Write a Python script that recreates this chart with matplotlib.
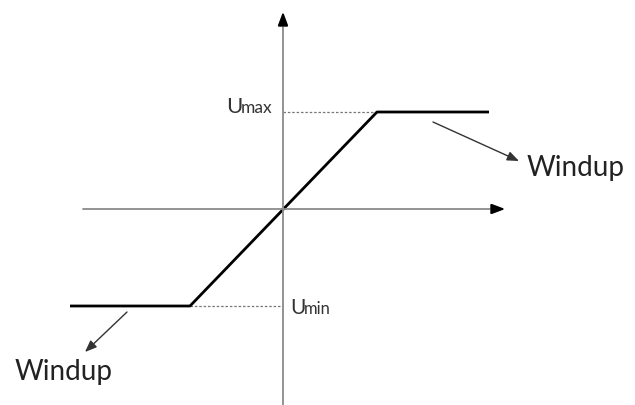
import matplotlib.pyplot as plt

# saturation curve (origin at axis crossing, y up)
u_in = [-213, -93, 94, 206]
u_out = [-97, -97, 97, 97]
u_max = 97
u_min = -97

# axis extents
x_axis = [-200, 222]
y_axis = [-196, 197]

fig = plt.figure(figsize=(6.35, 4.06), dpi=100)
ax = fig.add_axes([0, 0, 1, 1])
ax.set_xlim(-283, 352)
ax.set_ylim(-196, 210)
ax.axis("off")

font = "Lato"
head = "-|>,head_length=0.8,head_width=0.3"

# ejes con flechas
ax.annotate("", xy=(x_axis[1], 0), xytext=(x_axis[0], 0),
            arrowprops=dict(arrowstyle=head, color="#8a8a8a", lw=1.3, shrinkA=0, shrinkB=0))
ax.annotate("", xy=(0, y_axis[1]), xytext=(0, y_axis[0]),
            arrowprops=dict(arrowstyle=head, color="#8a8a8a", lw=1.3, shrinkA=0, shrinkB=0))
# puntas negras
ax.annotate("", xy=(x_axis[1], 0), xytext=(x_axis[1] - 12, 0),
            arrowprops=dict(arrowstyle=head, color="black", lw=1.3, shrinkA=0, shrinkB=0))
ax.annotate("", xy=(0, y_axis[1]), xytext=(0, y_axis[1] - 12),
            arrowprops=dict(arrowstyle=head, color="black", lw=1.3, shrinkA=0, shrinkB=0))

# lineas punteadas de saturacion
ax.plot([0, u_in[2]], [u_max, u_max], ls=(0, (2, 1.5)), color="#777777", lw=0.9)
ax.plot([u_in[1], 0], [u_min, u_min], ls=(0, (2, 1.5)), color="#777777", lw=0.9)

ax.plot(u_in, u_out, color="black", lw=2, solid_capstyle="butt")

# etiquetas Umax / Umin (U grande, resto chico)
ax.text(-57, u_max, "U", ha="left", va="baseline", fontsize=16, family=font, color="#333333")
ax.text(-42, u_max, "max", ha="left", va="baseline", fontsize=12.5, family=font, color="#333333")
ax.text(7, u_min - 7, "U", ha="left", va="baseline", fontsize=15, family=font, color="#333333")
ax.text(21, u_min - 7, "min", ha="left", va="baseline", fontsize=12, family=font, color="#333333")

# flechas de windup
ax.annotate("", xy=(236, 48), xytext=(150, 87),
            arrowprops=dict(arrowstyle="-|>,head_length=0.7,head_width=0.28", color="#333333", lw=1,
                            shrinkA=0, shrinkB=0))
ax.annotate("", xy=(-198, -143), xytext=(-156, -103),
            arrowprops=dict(arrowstyle="-|>,head_length=0.7,head_width=0.28", color="#333333", lw=1,
                            shrinkA=0, shrinkB=0))
ax.text(244, 34, "Windup", ha="left", va="baseline", fontsize=20, family=font, color="#222222")
ax.text(-268, -170, "Windup", ha="left", va="baseline", fontsize=20, family=font, color="#222222")

plt.savefig("out.png", dpi=100)
plt.close()
